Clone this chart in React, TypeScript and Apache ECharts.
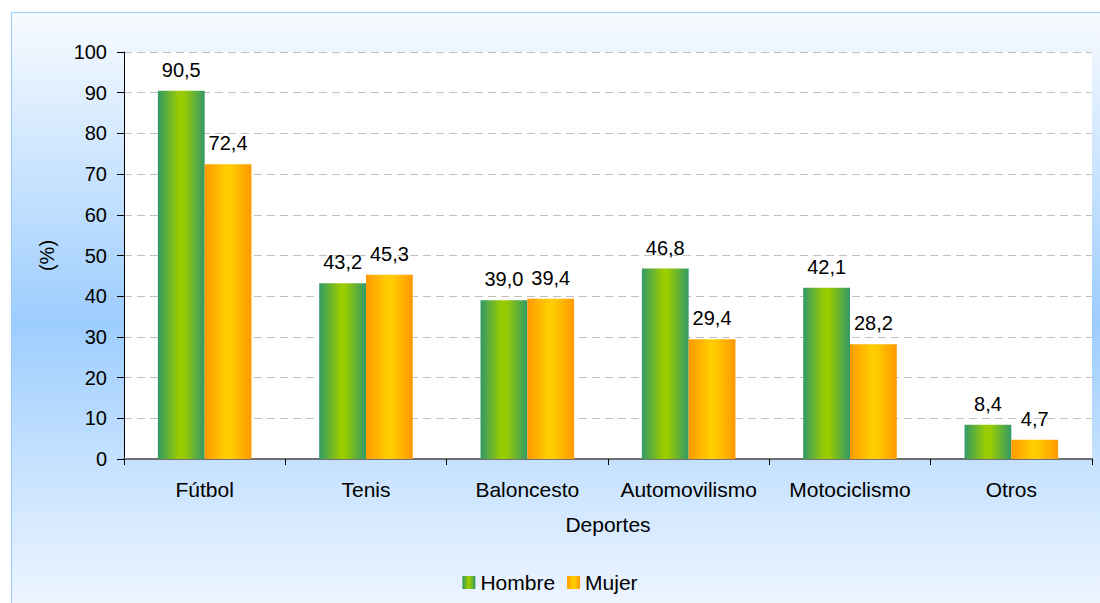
import React, { useEffect, useRef } from "react";
import * as echarts from "echarts";

const categories = ["Fútbol", "Tenis", "Baloncesto", "Automovilismo", "Motociclismo", "Otros"];
const hombre = [90.5, 43.2, 39.0, 46.8, 42.1, 8.4];
const mujer = [72.4, 45.3, 39.4, 29.4, 28.2, 4.7];
const seriesNames = ["Hombre", "Mujer"];
const yTicks = { min: 0, max: 100, interval: 10 };
const xAxisName = "Deportes";
const yAxisName = "(%)";

const FONT = "'Liberation Sans', Arial, sans-serif";

const greenGrad = new echarts.graphic.LinearGradient(0, 0, 1, 0, [
  { offset: 0, color: "#339966" },
  { offset: 0.45, color: "#99cc00" },
  { offset: 0.55, color: "#99cc00" },
  { offset: 1, color: "#339966" },
]);
const orangeGrad = new echarts.graphic.LinearGradient(0, 0, 1, 0, [
  { offset: 0, color: "#ff9900" },
  { offset: 0.45, color: "#ffcc00" },
  { offset: 0.55, color: "#ffcc00" },
  { offset: 1, color: "#ff9900" },
]);

const fmt = (p: any) => Number(p.value).toFixed(1).replace(".", ",");

export default function App() {
  const ref = useRef<HTMLDivElement>(null);
  useEffect(() => {
    document.body.style.margin = "0";
    const chart = echarts.init(ref.current!, null, { renderer: "svg" });
    const labelStyle = {
      show: true,
      position: "top" as const,
      distance: 11,
      formatter: fmt,
      color: "#000",
      fontSize: 20,
      fontFamily: FONT,
    };
    chart.setOption({
      animation: false,
      backgroundColor: "#ffffff",
      textStyle: { fontFamily: FONT },
      graphic: [
        {
          type: "rect",
          z: -10,
          silent: true,
          shape: { x: 11.5, y: 12.5, width: 1100, height: 620 },
          style: {
            fill: new echarts.graphic.LinearGradient(0, 0, 0, 1, [
              { offset: 0, color: "#f8fbff" },
              { offset: 0.5, color: "#9dcdfe" },
              { offset: 1, color: "#f6f9ff" },
            ]),
            stroke: "#99ccff",
            lineWidth: 1,
          },
        },
        {
          type: "rect",
          z: -9,
          silent: true,
          shape: { x: 124, y: 52, width: 968, height: 407 },
          style: { fill: "#ffffff" },
        },
      ],
      grid: { left: 124, right: 8, top: 52, bottom: 144, containLabel: false },
      legend: {
        data: seriesNames,
        bottom: 5,
        left: "center",
        itemWidth: 13,
        itemHeight: 13,
        itemGap: 12,
        icon: "rect",
        textStyle: { fontSize: 21, color: "#000", fontFamily: FONT },
      },
      xAxis: {
        type: "category",
        data: categories,
        name: xAxisName,
        nameLocation: "middle",
        nameGap: 55,
        nameTextStyle: { fontSize: 21, color: "#000", fontFamily: FONT },
        axisLine: { lineStyle: { color: "#707070", width: 2 } },
        axisTick: { show: true, length: 6, interval: 0, lineStyle: { color: "#000" } },
        axisLabel: { fontSize: 21, color: "#000", margin: 20, interval: 0, fontFamily: FONT },
      },
      yAxis: {
        type: "value",
        min: yTicks.min,
        max: yTicks.max,
        interval: yTicks.interval,
        name: yAxisName,
        nameLocation: "middle",
        nameGap: 67,
        nameTextStyle: { fontSize: 20, color: "#000", fontFamily: FONT },
        axisLine: { show: true, lineStyle: { color: "#000", width: 1 } },
        axisTick: { show: true, length: 7, lineStyle: { color: "#000" } },
        axisLabel: { fontSize: 20, color: "#000", margin: 17, fontFamily: FONT },
        splitLine: { show: true, lineStyle: { color: "#c0c0c0", type: [8, 5] } },
      },
      series: [
        {
          name: seriesNames[0],
          type: "bar",
          data: hombre,
          barGap: "0%",
          barCategoryGap: "42%",
          itemStyle: { color: greenGrad },
          label: labelStyle,
        },
        {
          name: seriesNames[1],
          type: "bar",
          data: mujer,
          itemStyle: { color: orangeGrad },
          label: labelStyle,
        },
      ],
    });
    return () => chart.dispose();
  }, []);
  return <div ref={ref} style={{ width: 1100, height: 603 }} />;
}
